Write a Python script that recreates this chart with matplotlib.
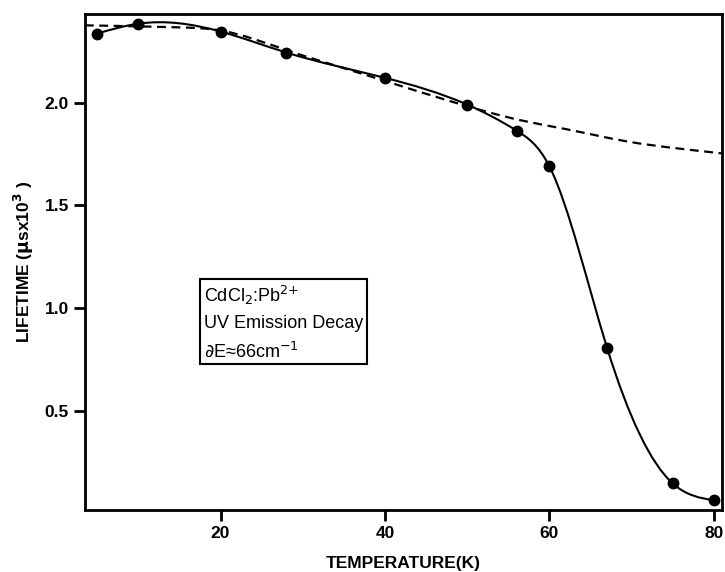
import numpy as np
import matplotlib
matplotlib.use("Agg")
import matplotlib.pyplot as plt
from matplotlib.path import Path
from matplotlib.patches import PathPatch

plt.rcParams['font.family'] = ['Liberation Sans', 'DejaVu Sans']

# measured lifetimes (filled circles)
temp = [5, 10, 20, 28, 40, 50, 56, 60, 67, 75, 80]
lifetime = [2.335, 2.383, 2.345, 2.243, 2.12, 1.99, 1.864, 1.69, 0.81, 0.15, 0.068]

# model curve (dashed)
model_temp = [3.5, 10, 15, 20, 28, 35, 40.7, 48, 52.6, 56.6, 62, 69.6, 75, 81]
model_life = [2.375, 2.37, 2.365, 2.35, 2.255, 2.167, 2.096, 2.006, 1.953,
              1.913, 1.871, 1.81, 1.78, 1.753]

xticks = [20, 40, 60, 80]
yticks = [0.5, 1.0, 1.5, 2.0]


def spline_path(xs, ys):
    # natural cubic spline through the points, as bezier segments
    x = np.asarray(xs, float)
    y = np.asarray(ys, float)
    n = len(x)
    h = np.diff(x)
    d = np.diff(y) / h
    A = np.zeros((n, n))
    b = np.zeros(n)
    A[0, 0] = A[-1, -1] = 1
    for i in range(1, n - 1):
        A[i, i - 1] = h[i - 1]
        A[i, i] = 2 * (h[i - 1] + h[i])
        A[i, i + 1] = h[i]
        b[i] = 6 * (d[i] - d[i - 1])
    M = np.linalg.solve(A, b)
    verts = [(x[0], y[0])]
    codes = [Path.MOVETO]
    for i in range(n - 1):
        m0 = d[i] - h[i] * (2 * M[i] + M[i + 1]) / 6
        m1 = d[i] + h[i] * (M[i] + 2 * M[i + 1]) / 6
        verts += [(x[i] + h[i] / 3, y[i] + m0 * h[i] / 3),
                  (x[i + 1] - h[i] / 3, y[i + 1] - m1 * h[i] / 3),
                  (x[i + 1], y[i + 1])]
        codes += [Path.CURVE4] * 3
    return Path(verts, codes)


fig = plt.figure(figsize=(7.25, 5.72), dpi=100)
ax = fig.add_axes([0.117, 0.108, 0.879, 0.8675])

ax.add_patch(PathPatch(spline_path(temp, lifetime), fill=False,
                       color='black', lw=1.5))
ax.add_patch(PathPatch(spline_path(model_temp, model_life), fill=False,
                       color='black', lw=1.6, linestyle=(0, (4, 2.5))))
ax.plot(temp, lifetime, 'o', color='black', markersize=7.5)

ax.set_xlim(3.5, 81)
ax.set_ylim(0.02, 2.43)
ax.set_xticks(xticks)
ax.set_xticklabels([str(t) for t in xticks], fontsize=12.5, fontweight='bold')
ax.set_yticks(yticks)
ax.set_yticklabels(['%.1f' % v for v in yticks], fontsize=12.5, fontweight='bold')
ax.tick_params(direction='out', length=8, width=2)
for s in ax.spines.values():
    s.set_linewidth(2)

ax.set_xlabel('TEMPERATURE(K)', fontsize=12.5, fontweight='bold', labelpad=11)
ax.set_ylabel(r'LIFETIME ($\mathbf{\mu}$sx10$^\mathbf{3}$ )', fontsize=12.5,
              fontweight='bold', labelpad=6)

ax.text(0.187, 0.456,
        'CdCl$_2$:Pb$^{2{+}}$\nUV Emission Decay\n$\\partial$E\u224866cm$^{-1}$',
        transform=ax.transAxes, fontsize=13, va='top', ha='left',
        linespacing=1.6,
        bbox=dict(boxstyle='square,pad=0.22', fc='white', ec='black', lw=1.5))

fig.savefig('out.png', dpi=100)
